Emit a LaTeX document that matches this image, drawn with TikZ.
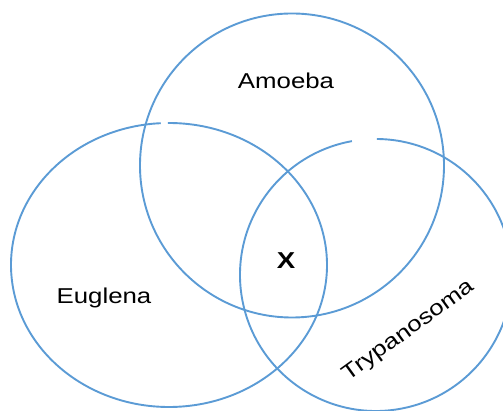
\documentclass[tikz,border=0pt]{standalone}
\usepackage{fontspec}
\setmainfont{Liberation Sans}[FakeStretch= 1.2]
\definecolor{venn}{RGB}{91,155,213}
\tikzset{ring/.style={draw= venn, line width= 1.9pt},
	label/.style={font= \fontsize{21.5}{25}\selectfont, text= black, inner sep= 0pt}}

\begin{document}
\begin{tikzpicture}[x= 1pt, y= 1pt]
	\useasboundingbox(0, 0) rectangle (503, 411);
	\clip(0, 0) rectangle (503, 411);
% 上の円
	\draw[ring](292, 245.5) circle (152); %Amoeba
% 左の円
	\draw[ring](169, 146) ++(93:158 and 142) arc (93:450.4:158 and 142); %上に切れ目
% 右の円
	\draw[ring](376, 136) ++(100.2:136) arc (100.2:449.6:136); %上に切れ目
% ラベル
	\node[label, anchor= base](amoeba) at (286, 322.7) {Amoeba};
	\node[label, anchor= base](euglena) at (104, 107) {Euglena};
	\node[label, rotate= 36](trypanosoma) at (409, 80) {Trypanosoma};
	\node[label, anchor= base, font= \fontsize{23}{27}\selectfont\bfseries](x) at (286, 142) {X};
\end{tikzpicture}
\end{document}
